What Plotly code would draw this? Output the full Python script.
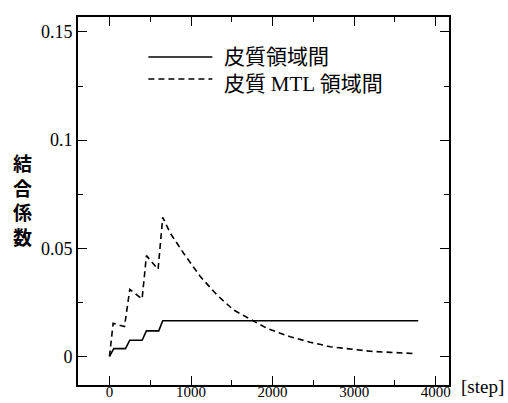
import plotly.graph_objects as go

# Data
solid_x = [0, 53, 196, 249, 400, 453, 604, 653, 3786]
solid_y = [0, 0.0036, 0.0036, 0.0075, 0.0075, 0.0118, 0.0118, 0.0165, 0.0165]

dash_x = [0, 45, 184, 249, 400, 453, 596, 653, 747, 909, 1114, 1318, 1521, 1726,
          1930, 2215, 2460, 2705, 2950, 3195, 3439, 3760]
dash_y = [0, 0.0153, 0.0138, 0.0310, 0.0266, 0.0466, 0.0403, 0.0643, 0.0569, 0.0477,
          0.0369, 0.0284, 0.0215, 0.0172, 0.0130, 0.0091, 0.0066, 0.0045, 0.0033,
          0.0024, 0.0019, 0.0013]

legend_labels = ["皮質領域間",
                 '皮質 <span style="font-family:Liberation Serif">MTL</span> 領域間']
y_title_chars = ["結", "合", "係", "数"]
x_unit = "[step]"

SERIF = "Liberation Serif"
CJK = "Noto Sans CJK JP"

fig = go.Figure()
fig.add_trace(go.Scatter(x=solid_x, y=solid_y, mode="lines",
                         line=dict(color="black", width=1.6), showlegend=False))
fig.add_trace(go.Scatter(x=dash_x, y=dash_y, mode="lines",
                         line=dict(color="black", width=1.6, dash="6px,4px"),
                         showlegend=False))

axis_common = dict(showline=True, linecolor="black", linewidth=1.6, mirror="ticks",
                   ticks="inside", ticklen=9, tickwidth=1.3, tickcolor="black",
                   showgrid=False, zeroline=False, automargin=False)

fig.update_xaxes(range=[-386, 4163], dtick=1000, tick0=0, ticklabelstandoff=-8,
                 tickfont=dict(family=SERIF, size=15, color="black"),
                 minor=dict(ticks="inside", ticklen=5, dtick=500, tickcolor="black",
                            tickwidth=1.2, showgrid=False),
                 **axis_common)
fig.update_yaxes(range=[-0.0132, 0.1569], dtick=0.05, tick0=0,
                 tickfont=dict(family=SERIF, size=18, color="black"),
                 minor=dict(ticks="inside", ticklen=5, dtick=0.025, tickcolor="black",
                            tickwidth=1.2, showgrid=False),
                 **axis_common)

W, H = 508, 403
L, R, T, B = 77.5, 449, 17, 385


def px(x):
    return (x - L) / (R - L)


def py(y):
    return 1 - (y - T) / (B - T)


shapes = []
annotations = []
# Custom legend: line samples + one two-line text block
for ypix, ln in [(57, dict(color="black", width=1.6)),
                 (79, dict(color="black", width=1.6, dash="6px,4px"))]:
    shapes.append(dict(type="line", xref="paper", yref="paper",
                       x0=px(148), x1=px(212), y0=py(ypix), y1=py(ypix), line=ln))
annotations.append(dict(text="<br>".join(legend_labels), xref="paper", yref="paper",
                        x=px(222), y=py(68.5), xanchor="left", yanchor="middle",
                        align="left", showarrow=False,
                        font=dict(family=CJK, size=21, color="black")))

# Vertical y-axis title (stacked characters)
annotations.append(dict(text="<b>" + "<br>".join(y_title_chars) + "</b>",
                        xref="paper", yref="paper",
                        x=px(21.5), y=py(199), xanchor="center", yanchor="middle",
                        showarrow=False,
                        font=dict(family=CJK, size=19, color="black")))

annotations.append(dict(text=x_unit, xref="paper", yref="paper", x=px(459), y=py(387),
                        xanchor="left", yanchor="middle", showarrow=False,
                        font=dict(family=SERIF, size=19, color="black")))

fig.update_layout(width=W, height=H, margin=dict(l=L, r=W - R, t=T, b=H - B),
                  plot_bgcolor="white", paper_bgcolor="white",
                  shapes=shapes, annotations=annotations, showlegend=False)

fig.write_html("out.html", config={"displayModeBar": False},
               post_script="document.body.style.margin='0';document.body.style.padding='0';")
